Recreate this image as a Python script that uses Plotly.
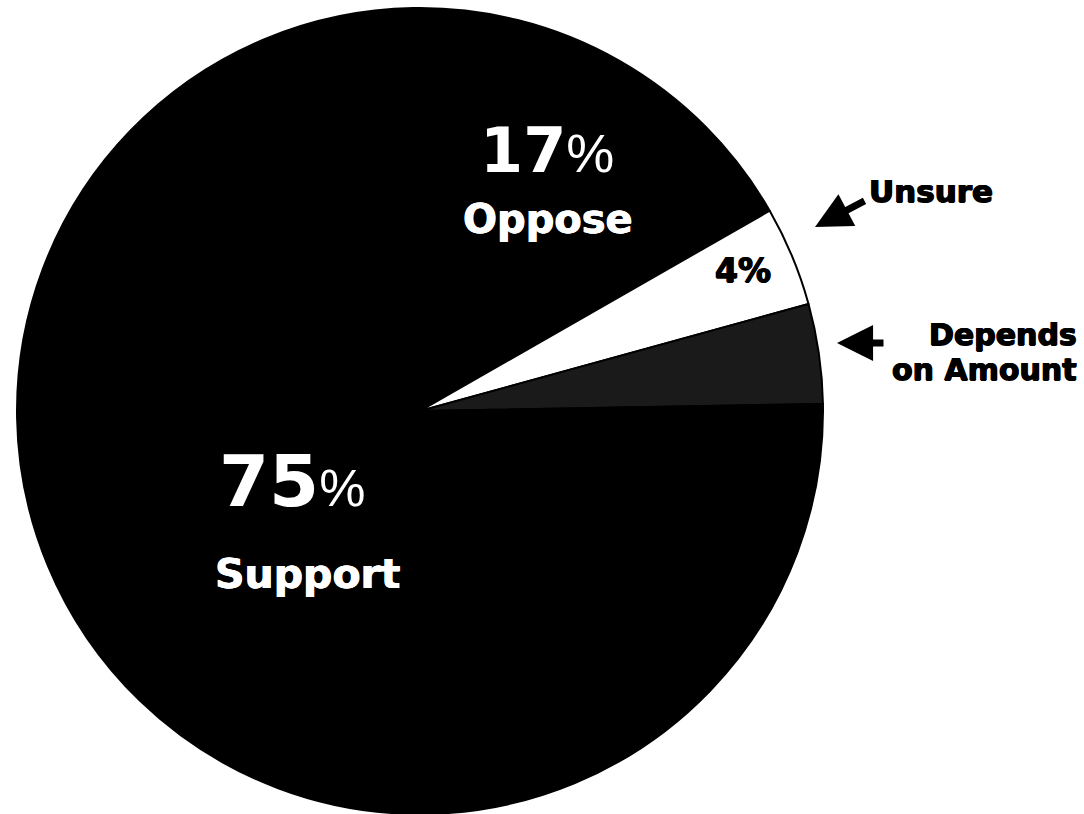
import plotly.graph_objects as go

# ---- data ----
categories = ["Oppose", "Unsure", "Depends on Amount", "Support"]
values = [17, 4, 4, 75]
slice_colors = ["#000000", "#ffffff", "#1a1a1a", "#000000"]

W, H = 1084, 814
cx, top, bottom = 420, 8, 814
r = (bottom - top) / 2.0


def px(x):
    return x / W


def py(y):
    return 1 - y / H


fig = go.Figure(
    go.Pie(
        labels=categories,
        values=values,
        sort=False,
        direction="clockwise",
        rotation=-1,
        marker=dict(colors=slice_colors, line=dict(color="#000000", width=2)),
        textinfo="none",
        hoverinfo="skip",
        showlegend=False,
        domain=dict(x=[px(cx - r), px(cx + r)], y=[0, py(top)]),
    )
)

BOLD = "DejaVu Sans"
PCT = "Liberation Sans"
HEAVY_SHADOW = "0.7px 0 0 black, -0.7px 0 0 black, 0 0.5px 0 black"
WHITE_SHADOW = "0.5px 0 0 white, -0.5px 0 0 white"


def pct_text(v, size):
    return (f"<b>{v}</b><span style='font-family:{PCT};font-size:{size}px;"
            f"font-weight:normal'>%</span>")


ann = []
# Oppose
ann.append(dict(x=px(547), y=py(150), text=pct_text(values[0], 54),
                font=dict(family=BOLD, size=62, color="white")))
ann.append(dict(x=px(548), y=py(219), text=f"<b>{categories[0]}</b>",
                font=dict(family=BOLD, size=40, color="white", shadow=WHITE_SHADOW)))
# Support
ann.append(dict(x=px(292), y=py(481), text=pct_text(values[3], 52),
                font=dict(family=BOLD, size=72, color="white")))
ann.append(dict(x=px(307), y=py(574), text=f"<b>{categories[3]}</b>",
                font=dict(family=BOLD, size=41, color="white", shadow=WHITE_SHADOW)))
# Unsure value inside slice
ann.append(dict(x=px(743), y=py(270), text=f"<b>{values[1]}%</b>",
                font=dict(family=BOLD, size=33, color="black", shadow=HEAVY_SHADOW)))
# Outside labels
ann.append(dict(x=px(931), y=py(191), text=f"<b>{categories[1]}</b>",
                font=dict(family=BOLD, size=31, color="black", shadow=HEAVY_SHADOW)))
dep1, dep2 = "Depends", "on Amount"
ann.append(dict(x=px(1078), y=py(334), text=f"<b>{dep1}</b>", xanchor="right",
                font=dict(family=BOLD, size=30, color="black", shadow=HEAVY_SHADOW)))
ann.append(dict(x=px(1078), y=py(369), text=f"<b>{dep2}</b>", xanchor="right",
                font=dict(family=BOLD, size=30, color="black", shadow=HEAVY_SHADOW)))

for a in ann:
    a.update(xref="paper", yref="paper", showarrow=False, borderpad=0)
    a.setdefault("xanchor", "center")
    a.setdefault("yanchor", "middle")

# arrows
arrows = [
    dict(x=px(815), y=py(227), ax=51, ay=-27),
    dict(x=px(837), y=py(343), ax=48, ay=0),
]
for a in arrows:
    a.update(xref="paper", yref="paper", axref="pixel", ayref="pixel",
             text="", showarrow=True, arrowhead=2, arrowwidth=7,
             arrowsize=1.03, arrowcolor="black", font=dict(size=1))
    ann.append(a)

fig.update_layout(
    width=W,
    height=H,
    margin=dict(l=0, r=0, t=0, b=0),
    paper_bgcolor="white",
    plot_bgcolor="white",
    annotations=ann,
)

fig.write_html("out.html", config={"displayModeBar": False},
               post_script="document.body.style.margin='0px';")
